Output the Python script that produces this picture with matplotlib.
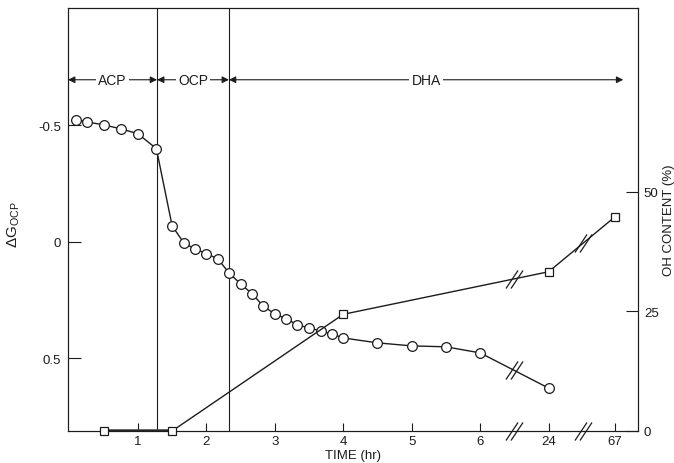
import matplotlib
matplotlib.use('Agg')
import matplotlib.pyplot as plt
import matplotlib.path as mpath
import numpy as np

plt.rcParams['font.family'] = ['Liberation Sans', 'DejaVu Sans']
plt.rcParams['mathtext.fontset'] = 'custom'
plt.rcParams['mathtext.rm'] = 'Liberation Sans'
plt.rcParams['mathtext.it'] = 'Liberation Sans'

# free energy relative to OCP (circles), time in hours
t_dg = [0.1, 0.25, 0.5, 0.75, 1.0, 1.27, 1.5, 1.67, 1.83, 2.0, 2.17, 2.33,
        2.5, 2.67, 2.83, 3.0, 3.17, 3.33, 3.5, 3.67, 3.83, 4.0, 4.5, 5.0,
        5.5, 6.0, 24]
dg = [-0.524, -0.515, -0.502, -0.485, -0.464, -0.40, -0.069, 0.004, 0.03,
      0.05, 0.073, 0.133, 0.18, 0.223, 0.275, 0.309, 0.33, 0.356, 0.369,
      0.382, 0.395, 0.412, 0.433, 0.446, 0.45, 0.476, 0.627]

# OH content (squares)
t_oh = [0.5, 1.5, 4, 24, 67]
oh = [0, 0, 24.4, 33.3, 44.8]

x_ticks = [1, 2, 3, 4, 5, 6, 24, 67]
phases = ['ACP', 'OCP', 'DHA']
phase_edges = [-0.02, 1.28, 2.33, 8.09]

# broken time axis: 24 h and 67 h sit one unit apart after 6 h
break_pos = {24: 7, 67: 7.97}


def pos(t):
    return np.array([break_pos.get(v, v) for v in t], dtype=float)


k = '#1c1c1c'
fig = plt.figure(figsize=(6.74, 4.64), dpi=100)
ax = fig.add_axes([0.101, 0.069, 0.846, 0.912])
ax2 = ax.twinx()

x_dg = pos(t_dg)
x_oh = pos(t_oh)

ax.plot(x_dg, dg, '-o', color=k, lw=1.0, ms=7, mfc='white', mec=k, mew=0.9,
        zorder=3)

ax2.plot(x_oh[:2], oh[:2], '-', color='#444444', lw=2.6, zorder=2)
ax2.plot(x_oh, oh, '-s', color=k, lw=1.0, ms=6, mfc='white', mec=k, mew=0.9,
         zorder=3, clip_on=False)

# phase boundaries
for xb in phase_edges[1:3]:
    ax.axvline(xb, color=k, lw=0.8)

for name, x0, x1 in zip(phases, phase_edges[:-1], phase_edges[1:]):
    ax.annotate('', xy=(x0, 0.83), xytext=(x1, 0.83),
                xycoords=ax.get_xaxis_transform(),
                arrowprops=dict(arrowstyle='<|-|>', color=k, lw=0.8,
                                shrinkA=0, shrinkB=0, mutation_scale=10))
    ax.text((x0 + x1) / 2, 0.83, name, transform=ax.get_xaxis_transform(),
            ha='center', va='center', fontsize=10, color=k,
            bbox=dict(fc='white', ec='none', pad=1.5))

# break marks "//"
brk = mpath.Path([(-8.5, -9), (3.5, 9), (-3.5, -9), (8.5, 9)],
                 [mpath.Path.MOVETO, mpath.Path.LINETO,
                  mpath.Path.MOVETO, mpath.Path.LINETO])
mk = dict(marker=brk, ms=13, mec=k, mew=0.9, ls='none')
for xb in [6.5, 7.5]:
    ax.plot([xb], [0], transform=ax.get_xaxis_transform(), clip_on=False,
            zorder=5, **mk)
ax.plot([6.5], [np.interp(6.5, x_dg, dg)], zorder=5, **mk)
ax2.plot([6.5, 7.5], np.interp([6.5, 7.5], x_oh, oh), zorder=5, **mk)

# axes
ax.set_xlim(-0.02, 8.31)
ax.set_ylim(0.811, -1.004)
ax2.set_ylim(0, 88.5)

ax.set_xticks(pos(x_ticks))
ax.set_xticklabels([str(t) for t in x_ticks])
ax.set_yticks([-0.5, 0, 0.5])
ax.set_yticklabels(['-0.5', '0', '0.5'])
ax2.set_yticks([0, 25, 50])
ax2.set_yticklabels(['0', '25', '50'])

ax.tick_params(axis='x', direction='in', length=6, width=0.8, labelsize=9.5,
               pad=3, colors=k)
ax.tick_params(axis='y', direction='in', length=9, width=0.8, labelsize=9.5,
               pad=5, colors=k)
ax2.tick_params(axis='y', direction='in', length=9, width=0.8, labelsize=9.5,
                pad=4, colors=k)

for a in (ax, ax2):
    for s in a.spines.values():
        s.set_linewidth(0.8)
        s.set_color(k)

ax.set_xlabel('TIME (hr)', fontsize=9.5, color=k, labelpad=1)
ax.set_ylabel(r'$\Delta\mathrm{G}_{\mathrm{OCP}}$', fontsize=11, color=k)
ax.yaxis.set_label_coords(-0.081, 0.49)
ax2.set_ylabel('OH CONTENT (%)', fontsize=9.5, color=k)
ax2.yaxis.set_label_coords(1.043, 0.5)

fig.savefig('out.png', dpi=100, facecolor='white')
